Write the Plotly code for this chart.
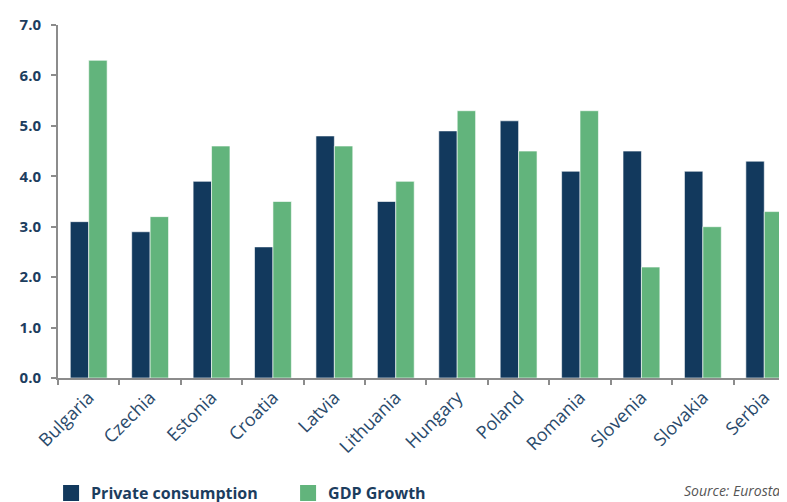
import plotly.graph_objects as go

countries = ["Bulgaria", "Czechia", "Estonia", "Croatia", "Latvia", "Lithuania",
             "Hungary", "Poland", "Romania", "Slovenia", "Slovakia", "Serbia"]
private_consumption = [3.1, 2.9, 3.9, 2.6, 4.8, 3.5, 4.9, 5.1, 4.1, 4.5, 4.1, 4.3]
gdp_growth = [6.3, 3.2, 4.6, 3.5, 4.6, 3.9, 5.3, 4.5, 5.3, 2.2, 3.0, 3.3]
y_ticks = [0, 1, 2, 3, 4, 5, 6, 7]
y_tick_labels = ["0.0", "1.0", "2.0", "3.0", "4.0", "5.0", "6.0", "7.0"]

NAVY = "#12395D"
GREEN = "#62B47C"
TEXT = "#1C3D5E"
FONT = "Open Sans"

fig = go.Figure()
fig.add_trace(go.Bar(x=countries, y=private_consumption, name="Private consumption",
                     marker=dict(color=NAVY, line=dict(color="rgba(255,255,255,0.6)", width=1)),
                     showlegend=False))
fig.add_trace(go.Bar(x=countries, y=gdp_growth, name="GDP Growth",
                     marker=dict(color=GREEN, line=dict(color="rgba(255,255,255,0.6)", width=1)),
                     showlegend=False))
# legend entries
fig.add_trace(go.Scatter(x=[None], y=[None], mode="markers", name="Private consumption",
                         marker=dict(symbol="square", size=18, color=NAVY)))
fig.add_trace(go.Scatter(x=[None], y=[None], mode="markers", name="GDP Growth",
                         marker=dict(symbol="square", size=18, color=GREEN)))

fig.update_layout(
    width=779, height=494,
    margin=dict(l=50, r=0, t=17, b=124, autoexpand=False),
    paper_bgcolor="white", plot_bgcolor="white",
    barmode="group", bargap=0.4, bargroupgap=0,
    font=dict(family=FONT, color=TEXT),
    showlegend=True,
    legend=dict(orientation="h", x=-0.0095, y=-0.326, xanchor="left", yanchor="middle",
                font=dict(family=FONT, size=16, color=TEXT, weight="bold"),
                itemwidth=30, entrywidth=192, entrywidthmode="pixels",
                tracegroupgap=0, bgcolor="rgba(0,0,0,0)"),
    xaxis=dict(range=[-0.5, 11.37], showgrid=False, zeroline=False, automargin=False,
               showline=True, linecolor="#8C8C8C", linewidth=2,
               ticks="outside", tickson="boundaries", ticklen=5, tickwidth=2, tickcolor="#8C8C8C",
               tickangle=-45, tickfont=dict(family=FONT, size=18, color="#2A4A6B")),
    yaxis=dict(range=[0, 7], tickvals=y_ticks, ticktext=y_tick_labels, showgrid=False,
               zeroline=False, showline=True, linecolor="#8C8C8C", linewidth=2, automargin=False,
               ticks="outside", ticklen=5, tickwidth=2, tickcolor="#8C8C8C",
               ticklabelstandoff=7,
               tickfont=dict(family=FONT, size=15, color=TEXT, weight="bold")),
    annotations=[dict(text="Source: Eurostat", x=0.856, y=-0.318, xref="paper", yref="paper",
                      xanchor="left", yanchor="middle", showarrow=False,
                      font=dict(family=FONT, size=14, color="#555555", style="italic"))],
)

fig.write_html("out.html")
